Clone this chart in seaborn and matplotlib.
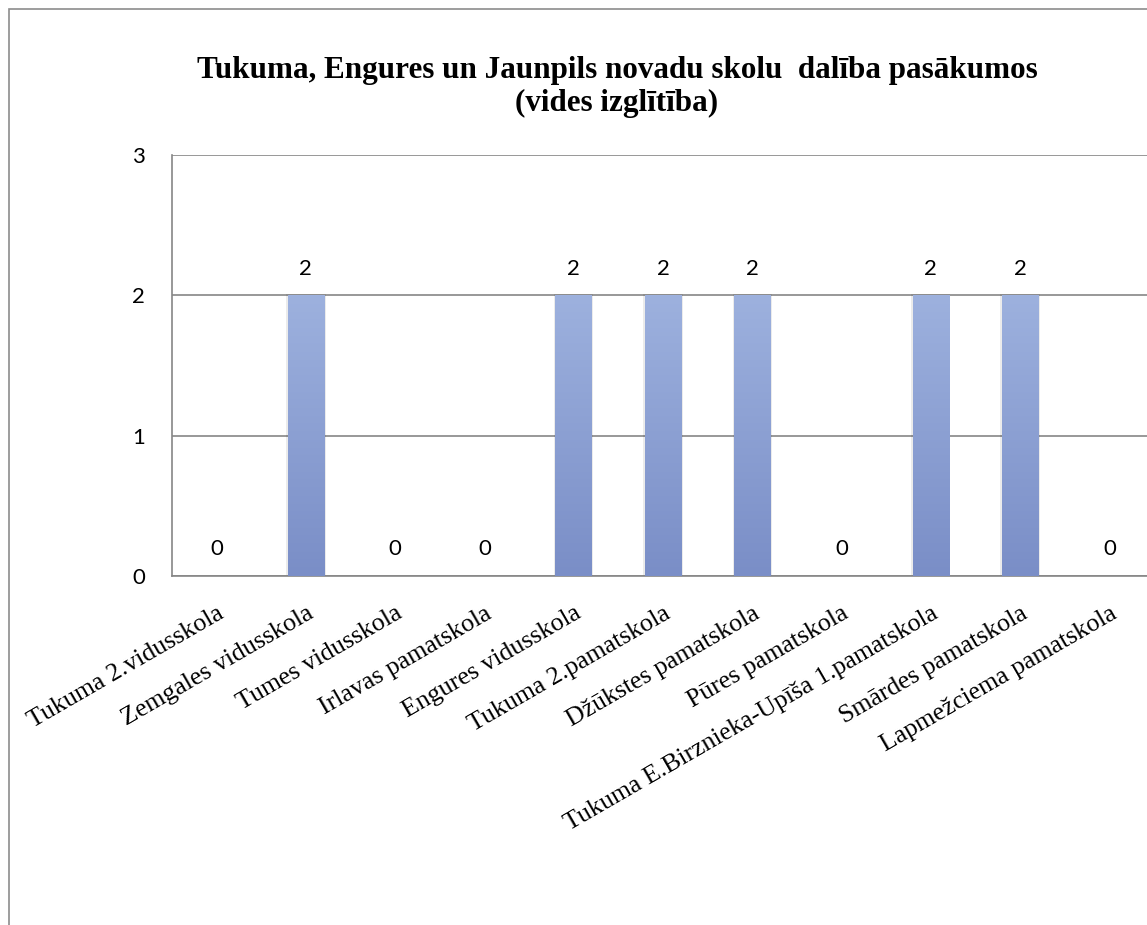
import numpy as np
import pandas as pd
import matplotlib
matplotlib.use("Agg")
import matplotlib.pyplot as plt
import seaborn as sns
from matplotlib.patches import Rectangle
from matplotlib.colors import LinearSegmentedColormap

schools = ["Tukuma 2.vidusskola", "Zemgales vidusskola", "Tumes vidusskola",
           "Irlavas pamatskola", "Engures vidusskola", "Tukuma 2.pamatskola",
           "Džūkstes pamatskola", "Pūres pamatskola",
           "Tukuma E.Birznieka-Upīša 1.pamatskola", "Smārdes pamatskola",
           "Lapmežciema pamatskola"]
values = [0, 2, 0, 0, 2, 2, 2, 0, 2, 2, 0]
title = "Tukuma, Engures un Jaunpils novadu skolu  dalība pasākumos\n(vides izglītība)"

sns.set_style("white")
df = pd.DataFrame({"school": schools, "value": values})

fig = plt.figure(figsize=(11.47, 9.25), dpi=100)
ax = fig.add_axes([172/1147, 1-576/925, 982/1147, 421/925])

sns.barplot(data=df, x="school", y="value", color="#8fa3d6", width=0.41,
            ax=ax, saturation=1, zorder=3, linewidth=0)

grad = np.linspace(0, 1, 256).reshape(-1, 1)
cmap = LinearSegmentedColormap.from_list("g", ["#7a8ec7", "#9db1de"])
for p in ax.patches:
    x0, y0 = p.get_x(), p.get_y()
    w, h = p.get_width(), p.get_height()
    if h <= 0:
        continue
    ax.add_patch(Rectangle((x0 - 0.015, y0), w + 0.03, h + 0.01,
                           facecolor="#000000", alpha=0.08, lw=0, zorder=2))
    im = ax.imshow(grad, extent=[x0, x0 + w, y0, y0 + h], origin="lower",
                   cmap=cmap, aspect="auto", zorder=4)
    im.set_clip_path(p)

for i, v in enumerate(values):
    ax.annotate(str(v), (i, v), xytext=(0, 12), textcoords="offset points",
                ha="center", va="bottom", fontsize=16, family="Lato",
                color="black", zorder=5)

ax.set_xlim(-0.5, len(schools) - 0.5)
ax.set_ylim(0, 3)
ax.set_yticks([0, 1, 2, 3])
ax.yaxis.grid(True, color="#868686", lw=1.2, zorder=0)
ax.set_axisbelow(True)
for s in ["top", "right"]:
    ax.spines[s].set_visible(False)
for s in ["left", "bottom"]:
    ax.spines[s].set_color("#868686")
    ax.spines[s].set_linewidth(1.2)

ax.set_xlabel("")
ax.set_ylabel("")
ax.set_xticks(np.arange(len(schools)))
ax.set_xticklabels(schools, rotation=30, ha="right", rotation_mode="anchor",
                   family="Liberation Serif", fontsize=18.6, color="black")
ax.set_xticks(np.arange(len(schools) + 1) - 0.5, minor=True)
ax.tick_params(axis="x", which="major", length=0, pad=19)
ax.tick_params(axis="x", which="minor", length=6.5, color="#868686", width=1.2,
               direction="out")
ax.tick_params(axis="y", length=6.5, color="#868686", width=1.2, direction="out",
               pad=13, labelsize=16, labelcolor="black")
for t in ax.get_yticklabels():
    t.set_family("Lato")

fig.text(617/1147, 1-87/925, title, ha="center", va="center",
         family="Liberation Serif", fontweight="bold", fontsize=22.4,
         linespacing=1.15, color="black")

fig.add_artist(Rectangle((9/1147, -0.1), 1.2, 1 - 9/925 + 0.1,
                         transform=fig.transFigure, fill=False,
                         edgecolor="#8c8c8c", lw=1.2))

fig.savefig("out.png", dpi=100)
